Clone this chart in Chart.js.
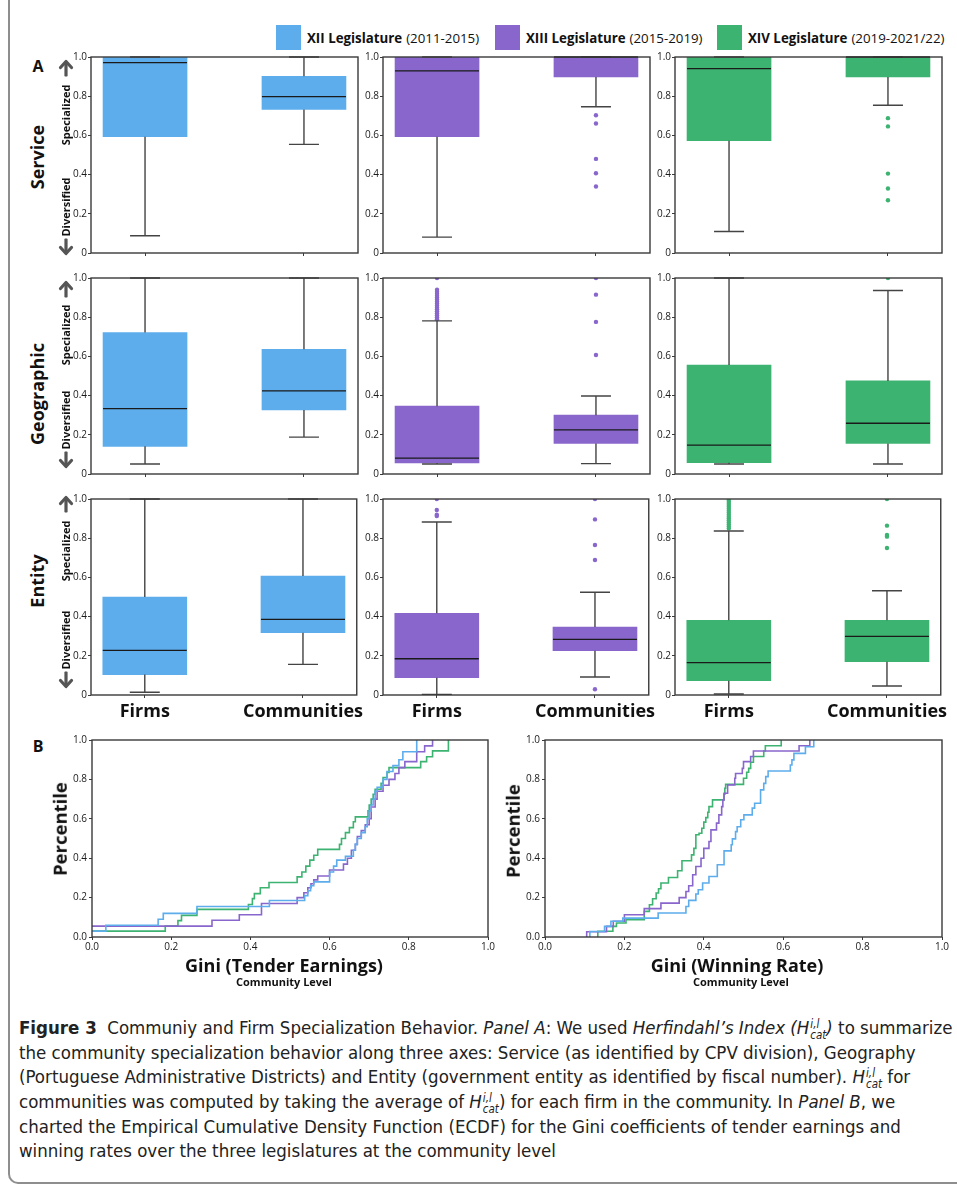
<!DOCTYPE html>
<html>
<head>
<meta charset="utf-8">
<script src="https://cdn.jsdelivr.net/npm/chart.js@4.4.1/dist/chart.umd.min.js"></script>
<style>
  html, body { margin: 0; padding: 0; background: #fff; }
  body { position: relative; width: 957px; height: 1186px; overflow: hidden; font-family: 'Open Sans', sans-serif; color: #111; }
  canvas { position: absolute; }
  .frame { position: absolute; left: 8px; top: -20px; width: 1100px; height: 1202px; border-left: 2px solid #8e8e8e; border-bottom: 2px solid #8e8e8e; border-bottom-left-radius: 10px; }
  .lbl { position: absolute; white-space: nowrap; font-weight: 700; line-height: 1; }
  .rot { transform: translate(-50%, -50%) rotate(-90deg); }
  .ctr { transform: translate(-50%, -50%); }
  .leg { position: absolute; top: 25px; height: 25px; display: flex; align-items: center; font-size: 13.3px; white-space: nowrap; }
  .leg .sw { display: inline-block; width: 25px; height: 25px; margin-right: 6px; }
  .leg b { margin-right: 4px; }
  .arrow { position: absolute; transform: translate(-50%, -50%); }
  .cap { position: absolute; left: 19px; top: 1016px; font-family: 'Liberation Sans Narrow', 'DejaVu Sans Condensed', sans-serif; font-size: 18.5px; line-height: 24.5px; color: #222; }
  .cap div { white-space: nowrap; }
  .ss { display: inline-block; vertical-align: -0.42em; line-height: 0.95; font-size: 0.62em; margin-left: 1px; }
  .ss i { display: block; }
</style>
</head>
<body>
<div class="frame"></div>

<div class="cap">
  <div><b>Figure 3</b>&nbsp; Communiy and Firm Specialization Behavior. <i>Panel A</i>: We used <i>Herfindahl’s Index (H</i><span class="ss"><i>i,l</i><i>cat</i></span><i>)</i> to summarize</div>
  <div>the community specialization behavior along three axes: Service (as identified by CPV division), Geography</div>
  <div>(Portuguese Administrative Districts) and Entity (government entity as identified by fiscal number). <i>H</i><span class="ss"><i>i,l</i><i>cat</i></span> for</div>
  <div>communities was computed by taking the average of <i>H</i><span class="ss"><i>i,l</i><i>cat</i></span>) for each firm in the community. In <i>Panel B</i>, we</div>
  <div>charted the Empirical Cumulative Density Function (ECDF) for the Gini coefficients of tender earnings and</div>
  <div>winning rates over the three legislatures at the community level</div>
</div>

<script>
// ---- data ----
const legislatures = ['XII Legislature', 'XIII Legislature', 'XIV Legislature'];
const legislatureYears = ['(2011-2015)', '(2015-2019)', '(2019-2021/22)'];
const dimensions = ['Service', 'Geographic', 'Entity'];
const groups = ['Firms', 'Communities'];

// [low whisker, q1, median, q3, high whisker] for [firms, communities], one entry per legislature
const serviceStats = [
    [[0.088, 0.593, 0.971, 1.0, 1.0], [0.554, 0.732, 0.798, 0.902, 1.0]],
    [[0.081, 0.593, 0.929, 1.0, 1.0], [0.746, 0.898, 1.0, 1.0, 1.0]],
    [[0.110, 0.573, 0.941, 1.0, 1.0], [0.754, 0.898, 1.0, 1.0, 1.0]],
];
const serviceOutliers = [
    [[], []],
    [[], [0.703, 0.661, 0.48, 0.407, 0.339]],
    [[], [0.688, 0.646, 0.405, 0.329, 0.269]],
];
const geographicStats = [
    [[0.051, 0.141, 0.334, 0.722, 1.0], [0.188, 0.327, 0.424, 0.636, 1.0]],
    [[0.051, 0.056, 0.081, 0.346, 0.781], [0.053, 0.156, 0.225, 0.300, 0.398]],
    [[0.051, 0.058, 0.147, 0.556, 1.0], [0.051, 0.156, 0.259, 0.475, 0.936]],
];
const geographicOutliers = [
    [[], []],
    [[0.79, 0.80, 0.81, 0.82, 0.83, 0.84, 0.85, 0.86, 0.87, 0.88, 0.89, 0.90, 0.91, 0.92, 0.93, 0.94, 1.0], [0.607, 0.776, 0.915, 1.0]],
    [[], [1.0]],
];
const entityStats = [
    [[0.014, 0.104, 0.228, 0.500, 1.0], [0.156, 0.318, 0.386, 0.607, 1.0]],
    [[0.003, 0.088, 0.185, 0.417, 0.883], [0.092, 0.226, 0.284, 0.347, 0.524]],
    [[0.005, 0.073, 0.165, 0.381, 0.837], [0.046, 0.170, 0.299, 0.381, 0.532]],
];
const entityOutliers = [
    [[], []],
    [[0.913, 0.92, 0.944, 1.0], [0.029, 0.689, 0.765, 0.896, 1.0]],
    [[0.85, 0.86, 0.87, 0.88, 0.89, 0.90, 0.91, 0.92, 0.93, 0.94, 0.95, 0.96, 0.97, 0.98, 0.99, 1.0], [0.75, 0.808, 0.816, 0.864, 1.0]],
];

// ECDF, Gini of tender earnings (community level)
const tenderXII_x = [0, 0.035, 0.167, 0.18, 0.265, 0.448, 0.537, 0.545, 0.552, 0.56, 0.6, 0.61, 0.618, 0.64, 0.66, 0.665, 0.67, 0.68, 0.69, 0.695, 0.7, 0.705, 0.71, 0.715, 0.72, 0.735, 0.745, 0.76, 0.775, 0.785, 0.82];
const tenderXII_y = [0.03, 0.06, 0.09, 0.12, 0.155, 0.185, 0.21, 0.235, 0.26, 0.28, 0.33, 0.36, 0.39, 0.41, 0.44, 0.47, 0.5, 0.53, 0.56, 0.6, 0.64, 0.67, 0.7, 0.74, 0.76, 0.8, 0.84, 0.87, 0.9, 0.94, 1.0];
const tenderXIII_x = [0, 0.303, 0.372, 0.428, 0.518, 0.535, 0.545, 0.553, 0.56, 0.57, 0.6, 0.635, 0.645, 0.655, 0.665, 0.67, 0.68, 0.69, 0.7, 0.705, 0.715, 0.72, 0.735, 0.75, 0.765, 0.775, 0.79, 0.82, 0.84, 0.86];
const tenderXIII_y = [0.055, 0.085, 0.113, 0.17, 0.2, 0.225, 0.25, 0.27, 0.29, 0.31, 0.34, 0.37, 0.4, 0.44, 0.47, 0.51, 0.54, 0.57, 0.6, 0.66, 0.7, 0.74, 0.77, 0.8, 0.83, 0.86, 0.89, 0.94, 0.97, 1.0];
const tenderXIV_x = [0, 0.185, 0.217, 0.226, 0.265, 0.395, 0.405, 0.41, 0.425, 0.447, 0.518, 0.53, 0.54, 0.55, 0.56, 0.57, 0.625, 0.63, 0.64, 0.65, 0.66, 0.665, 0.697, 0.7, 0.705, 0.71, 0.715, 0.73, 0.735, 0.745, 0.75, 0.83, 0.845, 0.86, 0.9];
const tenderXIV_y = [0.03, 0.055, 0.083, 0.11, 0.14, 0.165, 0.195, 0.22, 0.25, 0.277, 0.305, 0.33, 0.36, 0.39, 0.415, 0.445, 0.47, 0.5, 0.53, 0.555, 0.585, 0.61, 0.64, 0.67, 0.7, 0.725, 0.75, 0.78, 0.81, 0.835, 0.86, 0.89, 0.915, 0.945, 1.0];

// ECDF, Gini of winning rate (community level)
const winXII_x = [0.113, 0.113, 0.15, 0.166, 0.196, 0.285, 0.355, 0.362, 0.38, 0.386, 0.397, 0.413, 0.434, 0.451, 0.469, 0.472, 0.48, 0.484, 0.493, 0.501, 0.522, 0.528, 0.543, 0.551, 0.556, 0.562, 0.618, 0.622, 0.627, 0.656, 0.677];
const winXII_y = [0, 0.028, 0.054, 0.08, 0.096, 0.122, 0.155, 0.186, 0.218, 0.24, 0.274, 0.307, 0.367, 0.437, 0.468, 0.498, 0.535, 0.56, 0.595, 0.62, 0.654, 0.679, 0.747, 0.78, 0.814, 0.843, 0.873, 0.899, 0.932, 0.966, 1.0];
const winXIII_x = [0.105, 0.105, 0.155, 0.172, 0.2, 0.25, 0.292, 0.338, 0.355, 0.362, 0.372, 0.38, 0.393, 0.4, 0.413, 0.418, 0.432, 0.438, 0.445, 0.448, 0.451, 0.46, 0.478, 0.48, 0.497, 0.5, 0.518, 0.525, 0.64, 0.667];
const winXIII_y = [0, 0.027, 0.054, 0.08, 0.113, 0.144, 0.172, 0.2, 0.231, 0.26, 0.316, 0.358, 0.4, 0.45, 0.485, 0.544, 0.578, 0.62, 0.662, 0.696, 0.73, 0.772, 0.806, 0.83, 0.856, 0.89, 0.916, 0.944, 0.971, 1.0];
const winXIV_x = [0.133, 0.133, 0.171, 0.18, 0.204, 0.25, 0.263, 0.271, 0.28, 0.286, 0.292, 0.311, 0.334, 0.345, 0.369, 0.375, 0.38, 0.388, 0.395, 0.4, 0.405, 0.41, 0.413, 0.422, 0.451, 0.453, 0.455, 0.5, 0.508, 0.513, 0.518, 0.525, 0.551, 0.555, 0.595];
const winXIV_y = [0, 0.029, 0.054, 0.071, 0.088, 0.13, 0.164, 0.194, 0.223, 0.245, 0.274, 0.302, 0.336, 0.387, 0.417, 0.45, 0.519, 0.527, 0.552, 0.583, 0.606, 0.633, 0.662, 0.696, 0.725, 0.755, 0.775, 0.806, 0.836, 0.856, 0.887, 0.916, 0.944, 0.971, 1.0];

// ---- layout & style ----
const colors = ['#5dadec', '#8866cc', '#3cb371'];
const COL_LEFT = [91, 383, 675];
const ROW_TOP = [57, 278, 499];
const PLOT_W = 267;
const PLOT_H = 196;
const TICK_COLOR = '#1a1a1a';
const FRAME_COLOR = '#3a3a3a';

function addCanvas(left, top, w, h) {
    const c = document.createElement('canvas');
    c.width = w;
    c.height = h;
    c.style.left = left + 'px';
    c.style.top = top + 'px';
    c.style.width = w + 'px';
    c.style.height = h + 'px';
    document.body.appendChild(c);
    return c;
}

function addLabel(text, x, y, size, rotate, weight) {
    const d = document.createElement('div');
    d.className = 'lbl ' + (rotate ? 'rot' : 'ctr');
    d.style.left = x + 'px';
    d.style.top = y + 'px';
    d.style.fontSize = size + 'px';
    if (weight) d.style.fontWeight = weight;
    d.textContent = text;
    document.body.appendChild(d);
}

function addArrow(x, y, up) {
    const d = document.createElement('div');
    d.className = 'arrow';
    d.style.left = x + 'px';
    d.style.top = y + 'px';
    const path = up
        ? '<line x1="8" y1="17" x2="8" y2="4" /><polyline points="2.5,9 8,3 13.5,9" />'
        : '<line x1="8" y1="1" x2="8" y2="14" /><polyline points="2.5,9 8,15 13.5,9" />';
    d.innerHTML = '<svg width="16" height="18" viewBox="0 0 16 18" fill="none" stroke="#555" stroke-width="3.2" stroke-linecap="round" stroke-linejoin="round">' + path + '</svg>';
    document.body.appendChild(d);
}

// frame around the plotting area
const framePlugin = {
    id: 'frame',
    afterDraw(chart) {
        const { ctx, chartArea: a } = chart;
        ctx.save();
        ctx.strokeStyle = FRAME_COLOR;
        ctx.lineWidth = 1.4;
        ctx.strokeRect(a.left, a.top, a.right - a.left, a.bottom - a.top);
        ctx.restore();
    },
};

// whiskers and median lines for the floating-bar boxes
const whiskerPlugin = {
    id: 'whiskers',
    afterDatasetsDraw(chart, args, opts) {
        const { ctx } = chart;
        const xs = chart.scales.x;
        const ys = chart.scales.y;
        const bars = chart.getDatasetMeta(0).data;
        ctx.save();
        opts.stats.forEach((s, i) => {
            const cx = xs.getPixelForValue(i + 1);
            const half = bars[i].width / 2;
            const cap = 15;
            const [lo, q1, med, q3, hi] = s.map(v => ys.getPixelForValue(v));
            ctx.strokeStyle = '#444';
            ctx.lineWidth = 1.4;
            ctx.beginPath();
            ctx.moveTo(cx, q3); ctx.lineTo(cx, hi);
            ctx.moveTo(cx - cap, hi); ctx.lineTo(cx + cap, hi);
            ctx.moveTo(cx, q1); ctx.lineTo(cx, lo);
            ctx.moveTo(cx - cap, lo); ctx.lineTo(cx + cap, lo);
            ctx.stroke();
            ctx.strokeStyle = '#1a1a1a';
            ctx.lineWidth = 1.3;
            ctx.beginPath();
            ctx.moveTo(cx - half, med); ctx.lineTo(cx + half, med);
            ctx.stroke();
        });
        ctx.restore();
    },
};

function renderBoxChart(row, col, stats, outliers) {
    const yAxisW = 36;
    const pad = 10;
    const xAxisH = row === 2 ? 30 : 8;
    const canvas = addCanvas(COL_LEFT[col] - yAxisW, ROW_TOP[row] - pad,
        yAxisW + PLOT_W + pad, pad + PLOT_H + xAxisH);
    const color = colors[col];
    const points = [];
    outliers.forEach((arr, i) => arr.forEach(v => points.push({ x: i + 1, y: v })));

    return new Chart(canvas, {
        type: 'bar',
        data: {
            datasets: [
                {
                    type: 'bar',
                    data: stats.map((s, i) => ({ x: i + 1, y: [s[1], s[3]] })),
                    backgroundColor: color,
                    borderWidth: 0,
                    barThickness: 84,
                },
                {
                    type: 'scatter',
                    data: points,
                    backgroundColor: color,
                    borderWidth: 0,
                    pointRadius: 2.2,
                },
            ],
        },
        options: {
            responsive: false,
            animation: false,
            devicePixelRatio: 1,
            layout: { padding: { top: pad, right: pad, left: 0, bottom: 0 } },
            plugins: {
                legend: { display: false },
                tooltip: { enabled: false },
                whiskers: { stats: stats },
            },
            scales: {
                x: {
                    type: 'linear',
                    min: 0.66,
                    max: 2.34,
                    offset: false,
                    afterBuildTicks: s => { s.ticks = [{ value: 1 }, { value: 2 }]; },
                    afterFit: s => { s.height = xAxisH; },
                    ticks: {
                        callback: v => (row === 2 ? groups[v - 1] : ''),
                        color: '#111',
                        font: { family: 'Open Sans', size: 18, weight: 'bold' },
                        padding: 3,
                        maxRotation: 0,
                        autoSkip: false,
                    },
                    grid: { drawOnChartArea: false, offset: false, tickLength: 3, color: FRAME_COLOR },
                    border: { display: false },
                },
                y: {
                    min: 0,
                    max: 1,
                    afterFit: s => { s.width = yAxisW; },
                    ticks: {
                        stepSize: 0.2,
                        callback: v => (v === 0 ? '0' : v.toFixed(1)),
                        color: TICK_COLOR,
                        font: { family: 'Open Sans', size: 10 },
                        padding: 1,
                    },
                    grid: { drawOnChartArea: false, tickLength: 3, color: FRAME_COLOR },
                    border: { display: false },
                },
            },
        },
        plugins: [whiskerPlugin, framePlugin],
    });
}

function renderEcdfChart(left, width, series) {
    const top = 740;
    const height = 197;
    const yAxisW = 34;
    const pad = 10;
    const xAxisH = 22;
    const canvas = addCanvas(left - yAxisW, top - pad, yAxisW + width + 12, pad + height + xAxisH);

    return new Chart(canvas, {
        type: 'line',
        data: {
            datasets: series.map((s, k) => ({
                label: legislatures[k],
                data: s.x.map((x, i) => ({ x: x, y: s.y[i] })),
                borderColor: colors[k],
                borderWidth: 1.6,
                pointRadius: 0,
                stepped: 'before',
                fill: false,
            })),
        },
        options: {
            responsive: false,
            animation: false,
            devicePixelRatio: 1,
            layout: { padding: { top: pad, right: 12, left: 0, bottom: 0 } },
            plugins: { legend: { display: false }, tooltip: { enabled: false } },
            scales: {
                x: {
                    type: 'linear',
                    min: 0,
                    max: 1,
                    afterFit: s => { s.height = xAxisH; },
                    ticks: {
                        stepSize: 0.2,
                        callback: v => v.toFixed(1),
                        color: TICK_COLOR,
                        font: { family: 'Open Sans', size: 10 },
                        padding: 1,
                        maxRotation: 0,
                    },
                    grid: { drawOnChartArea: false, tickLength: 3, color: FRAME_COLOR },
                    border: { display: false },
                },
                y: {
                    min: 0,
                    max: 1,
                    afterFit: s => { s.width = yAxisW; },
                    ticks: {
                        stepSize: 0.2,
                        callback: v => v.toFixed(1),
                        color: TICK_COLOR,
                        font: { family: 'Open Sans', size: 10 },
                        padding: 2,
                    },
                    grid: { drawOnChartArea: false, tickLength: 3, color: FRAME_COLOR },
                    border: { display: false },
                },
            },
        },
        plugins: [framePlugin],
    });
}

// ---- legend ----
const legendLeft = [276, 495, 717];
legislatures.forEach((name, k) => {
    const d = document.createElement('div');
    d.className = 'leg';
    d.style.left = legendLeft[k] + 'px';
    d.innerHTML = '<span class="sw" style="background:' + colors[k] + '"></span><b>' + name + '</b>' + legislatureYears[k];
    document.body.appendChild(d);
});

// ---- panel A ----
const allStats = [serviceStats, geographicStats, entityStats];
const allOutliers = [serviceOutliers, geographicOutliers, entityOutliers];
for (let r = 0; r < 3; r++) {
    for (let c = 0; c < 3; c++) {
        renderBoxChart(r, c, allStats[r][c], allOutliers[r][c]);
    }
}

addLabel('A', 38, 66, 16, false);
const rowLabelY = [157, 394, 581];
const specY = [115, 335, 551];
const diverY = [207, 420, 640];
const upY = [70, 291, 506];
const downY = [250, 463, 683];
dimensions.forEach((name, r) => {
    addLabel(name, 37, rowLabelY[r], 18, true);
    addLabel('Specialized', 65, specY[r], 11, true);
    addLabel('Diversified', 65, diverY[r], 11, true);
    addArrow(66, upY[r], true);
    addArrow(66, downY[r], false);
});

// ---- panel B ----
addLabel('B', 38, 746, 16, false);
renderEcdfChart(92, 396, [
    { x: tenderXII_x, y: tenderXII_y },
    { x: tenderXIII_x, y: tenderXIII_y },
    { x: tenderXIV_x, y: tenderXIV_y },
]);
renderEcdfChart(545, 397, [
    { x: winXII_x, y: winXII_y },
    { x: winXIII_x, y: winXIII_y },
    { x: winXIV_x, y: winXIV_y },
]);
addLabel('Percentile', 60, 829, 18.5, true);
addLabel('Percentile', 513, 831, 18.5, true);
addLabel('Gini (Tender Earnings)', 284, 965, 18, false);
addLabel('Community Level', 284, 981, 11, false);
addLabel('Gini (Winning Rate)', 737, 965, 18, false);
addLabel('Community Level', 741, 981, 11, false);
</script>
</body>
</html>
